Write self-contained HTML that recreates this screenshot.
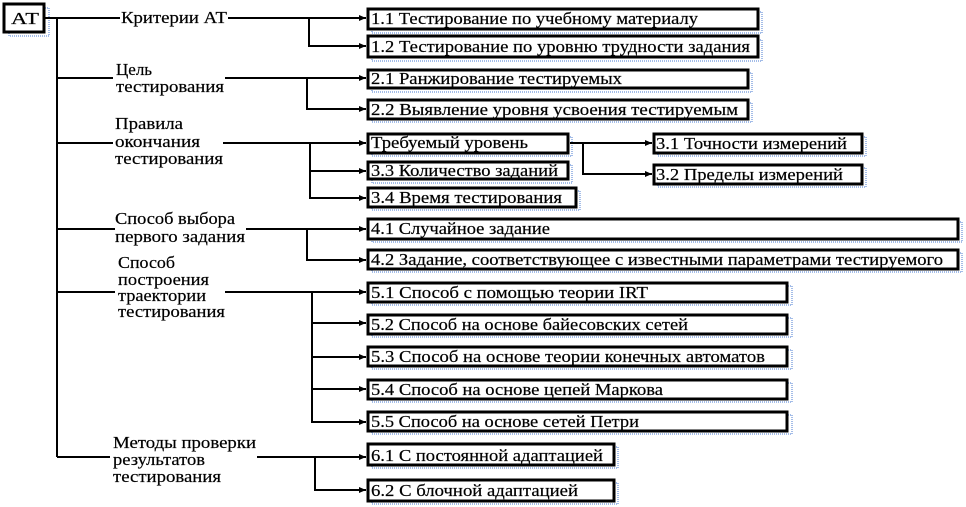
<!DOCTYPE html>
<html><head><meta charset="utf-8"><style>
html,body{margin:0;padding:0;background:#fff;}
svg{display:block;}
text{font-family:"Liberation Serif","DejaVu Serif","Times New Roman",serif;font-size:17px;fill:#000;stroke:#000;stroke-width:0.2;}
</style></head><body>
<svg width="966" height="507" viewBox="0 0 966 507" xmlns="http://www.w3.org/2000/svg">
<defs>
<marker id="a" markerWidth="8" markerHeight="8" refX="7" refY="4" orient="auto" markerUnits="userSpaceOnUse">
<path d="M0,1 L7,4 L0,7 Z" fill="#000"/></marker>
</defs>
<g stroke="#4a7bd0" stroke-width="1" stroke-dasharray="1,1" fill="none">
<rect x="9" y="8" width="40" height="28"/>
<rect x="372" y="12" width="390" height="21"/><rect x="372" y="40" width="390" height="21"/>
<rect x="372" y="73" width="380" height="19"/><rect x="372" y="103" width="380" height="19"/>
<rect x="372" y="137" width="200" height="19"/><rect x="372" y="165" width="200" height="18"/><rect x="372" y="191" width="208" height="19"/>
<rect x="658" y="137" width="208" height="19"/><rect x="658" y="168" width="208" height="19"/>
<rect x="372" y="222" width="590" height="20"/><rect x="372" y="253" width="590" height="19"/>
<rect x="372" y="286" width="420" height="19"/><rect x="372" y="318" width="420" height="19"/><rect x="372" y="350" width="420" height="19"/><rect x="372" y="383" width="420" height="19"/><rect x="372" y="415" width="420" height="19"/>
<rect x="372" y="447" width="246" height="21"/><rect x="372" y="483" width="246" height="21"/>
</g>
<g stroke="#000" stroke-width="3" fill="#fff">
<rect x="4" y="4" width="40" height="28"/>
<rect x="368" y="9" width="390" height="20"/><rect x="368" y="36" width="390" height="21"/>
<rect x="368" y="70" width="380" height="18"/><rect x="368" y="100" width="380" height="19"/>
<rect x="368" y="134" width="200" height="19"/><rect x="368" y="162" width="200" height="17"/><rect x="368" y="188" width="208" height="19"/>
<rect x="654" y="134" width="208" height="19"/><rect x="654" y="165" width="208" height="19"/>
<rect x="368" y="219" width="590" height="20"/><rect x="368" y="250" width="590" height="19"/>
<rect x="368" y="283" width="419" height="19"/><rect x="368" y="315" width="419" height="19"/><rect x="368" y="347" width="419" height="19"/><rect x="368" y="380" width="419" height="19"/><rect x="368" y="412" width="419" height="19"/>
<rect x="368" y="444" width="246" height="21"/><rect x="368" y="480" width="246" height="21"/>
</g>
<g stroke="#000" stroke-width="2" fill="none">
<line x1="57" y1="18" x2="57" y2="457"/>
<line x1="44" y1="18" x2="120" y2="18"/>
<line x1="228" y1="18" x2="366" y2="18" marker-end="url(#a)"/>
<polyline points="309,18 309,46 366,46" marker-end="url(#a)"/>
<line x1="57" y1="78" x2="113" y2="78"/>
<line x1="225" y1="78" x2="366" y2="78" marker-end="url(#a)"/>
<polyline points="307,78 307,109 366,109" marker-end="url(#a)"/>
<line x1="57" y1="143" x2="113" y2="143"/>
<line x1="223" y1="143" x2="366" y2="143" marker-end="url(#a)"/>
<polyline points="310,143 310,198 366,198" marker-end="url(#a)"/>
<line x1="310" y1="171" x2="366" y2="171" marker-end="url(#a)"/>
<line x1="570" y1="143" x2="652" y2="143" marker-end="url(#a)"/>
<polyline points="583,143 583,174 652,174" marker-end="url(#a)"/>
<line x1="57" y1="229" x2="115" y2="229"/>
<line x1="246" y1="229" x2="366" y2="229" marker-end="url(#a)"/>
<polyline points="307,229 307,260 366,260" marker-end="url(#a)"/>
<line x1="57" y1="292" x2="115" y2="292"/>
<line x1="225" y1="292" x2="366" y2="292" marker-end="url(#a)"/>
<polyline points="312,292 312,422 366,422" marker-end="url(#a)"/>
<line x1="312" y1="323" x2="366" y2="323" marker-end="url(#a)"/>
<line x1="312" y1="357" x2="366" y2="357" marker-end="url(#a)"/>
<line x1="312" y1="389" x2="366" y2="389" marker-end="url(#a)"/>
<line x1="57" y1="457" x2="110" y2="457"/>
<line x1="257" y1="457" x2="366" y2="457" marker-end="url(#a)"/>
<polyline points="315,457 315,490 366,490" marker-end="url(#a)"/>
</g>
<g>
<text x="11" y="24" textLength="28" lengthAdjust="spacingAndGlyphs">АТ</text>
<text x="121" y="23" textLength="106" lengthAdjust="spacingAndGlyphs">Критерии АТ</text>
<text x="116" y="75">Цель</text>
<text x="116" y="92" textLength="108" lengthAdjust="spacingAndGlyphs">тестирования</text>
<text x="115" y="129" textLength="68" lengthAdjust="spacingAndGlyphs">Правила</text>
<text x="115" y="147" textLength="85" lengthAdjust="spacingAndGlyphs">окончания</text>
<text x="115" y="164" textLength="108" lengthAdjust="spacingAndGlyphs">тестирования</text>
<text x="115" y="224" textLength="120" lengthAdjust="spacingAndGlyphs">Способ выбора</text>
<text x="115" y="242" textLength="130" lengthAdjust="spacingAndGlyphs">первого задания</text>
<text x="118" y="268" textLength="57" lengthAdjust="spacingAndGlyphs">Способ</text>
<text x="118" y="285" textLength="91" lengthAdjust="spacingAndGlyphs">построения</text>
<text x="118" y="301" textLength="88" lengthAdjust="spacingAndGlyphs">траектории</text>
<text x="118" y="317" textLength="107" lengthAdjust="spacingAndGlyphs">тестирования</text>
<text x="113" y="448" textLength="143" lengthAdjust="spacingAndGlyphs">Методы проверки</text>
<text x="113" y="465" textLength="92" lengthAdjust="spacingAndGlyphs">результатов</text>
<text x="113" y="482" textLength="108" lengthAdjust="spacingAndGlyphs">тестирования</text>

<text x="371" y="24" textLength="327" lengthAdjust="spacingAndGlyphs">1.1 Тестирование по учебному материалу</text>
<text x="371" y="52" textLength="379" lengthAdjust="spacingAndGlyphs">1.2 Тестирование по уровню трудности задания</text>
<text x="371" y="84" textLength="251" lengthAdjust="spacingAndGlyphs">2.1 Ранжирование тестируемых</text>
<text x="371" y="115" textLength="367" lengthAdjust="spacingAndGlyphs">2.2 Выявление уровня усвоения тестируемым</text>
<text x="371" y="148" textLength="157" lengthAdjust="spacingAndGlyphs">Требуемый уровень</text>
<text x="371" y="176" textLength="187" lengthAdjust="spacingAndGlyphs">3.3 Количество заданий</text>
<text x="371" y="203" textLength="191" lengthAdjust="spacingAndGlyphs">3.4 Время тестирования</text>
<text x="656" y="149" textLength="191" lengthAdjust="spacingAndGlyphs">3.1 Точности измерений</text>
<text x="656" y="180" textLength="187" lengthAdjust="spacingAndGlyphs">3.2 Пределы измерений</text>
<text x="371" y="234" textLength="179" lengthAdjust="spacingAndGlyphs">4.1 Случайное задание</text>
<text x="371" y="265" textLength="572" lengthAdjust="spacingAndGlyphs">4.2 Задание, соответствующее с известными параметрами тестируемого</text>
<text x="371" y="298" textLength="277" lengthAdjust="spacingAndGlyphs">5.1 Способ с помощью теории IRT</text>
<text x="371" y="330" textLength="317" lengthAdjust="spacingAndGlyphs">5.2 Способ на основе байесовских сетей</text>
<text x="371" y="362" textLength="394" lengthAdjust="spacingAndGlyphs">5.3 Способ на основе теории конечных автоматов</text>
<text x="371" y="395" textLength="292" lengthAdjust="spacingAndGlyphs">5.4 Способ на основе цепей Маркова</text>
<text x="371" y="427" textLength="268" lengthAdjust="spacingAndGlyphs">5.5 Способ на основе сетей Петри</text>
<text x="371" y="461" textLength="232" lengthAdjust="spacingAndGlyphs">6.1 С постоянной адаптацией</text>
<text x="371" y="496" textLength="207" lengthAdjust="spacingAndGlyphs">6.2 С блочной адаптацией</text>
</g>
</svg>
</body></html>
